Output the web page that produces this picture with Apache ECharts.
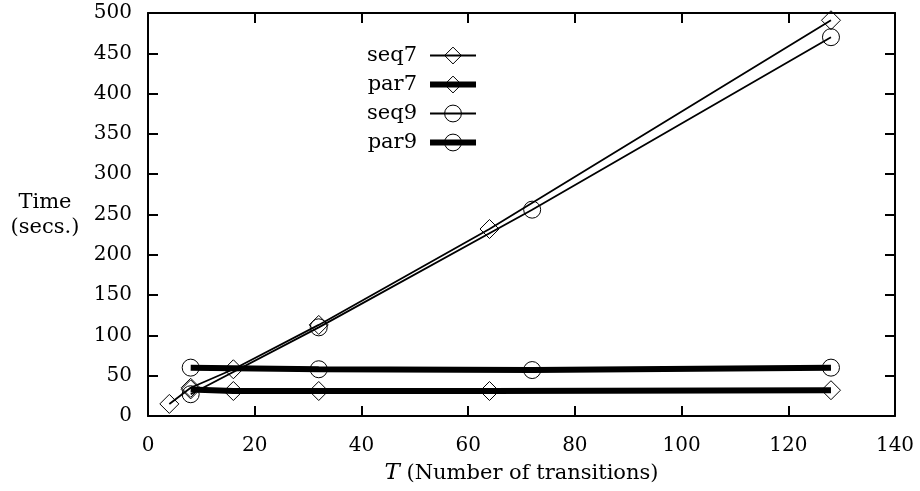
<!DOCTYPE html>
<html><head><meta charset="utf-8">
<script src="https://cdn.jsdelivr.net/npm/echarts@6/dist/echarts.min.js"></script>
<style>html,body{margin:0;padding:0;background:#fff}#c{width:920px;height:491px}</style>
</head><body><div id="c"></div>
<script>
const seq7X = [4, 8, 16, 32, 64, 128];
const seq7Y = [15, 35, 58, 113, 232, 491];
const par7X = [8, 16, 32, 64, 128];
const par7Y = [33, 31, 31, 31, 32];
const seq9X = [8, 32, 72, 128];
const seq9Y = [27, 110, 256, 470];
const par9X = [8, 32, 72, 128];
const par9Y = [60, 58, 57, 60];
const xTicks = [0, 20, 40, 60, 80, 100, 120, 140];
const yTicks = [0, 50, 100, 150, 200, 250, 300, 350, 400, 450, 500];

const FONT = 'DejaVu Serif';
const zip = (xs, ys) => xs.map((x, i) => [x, ys[i]]);

function mk(name, xs, ys, sym, width) {
  return {
    name, type: 'line', data: zip(xs, ys), symbol: sym, symbolSize: sym === 'circle' ? 17 : 19,
    showSymbol: true, animation: false,
    lineStyle: { color: '#000', width: width },
    itemStyle: { color: 'rgba(0,0,0,0)', borderColor: '#000', borderWidth: 1 },
    z: width > 2 ? 3 : 2
  };
}

const chart = echarts.init(document.getElementById('c'));
const axisLine = { show: true, onZero: false, lineStyle: { color: '#000', width: 2 } };
const tick = { show: true, inside: true, length: 10, lineStyle: { color: '#000', width: 2 } };
const legendItem = (name, w) => ({
  name,
  lineStyle: { width: w, color: '#000' },
  itemStyle: { color: 'rgba(0,0,0,0)', borderColor: '#000', borderWidth: 1 }
});
chart.setOption({
  backgroundColor: '#fff',
  animation: false,
  grid: { left: 148, right: 25, top: 13, bottom: 75 },
  legend: {
    orient: 'vertical', left: 362, top: 40, align: 'right', itemGap: 8,
    itemWidth: 46, itemHeight: 21,
    textStyle: { fontFamily: FONT, fontSize: 21, color: '#000', padding: [0, 8, 0, 0] },
    data: [legendItem('seq7', 2), legendItem('par7', 6),
           legendItem('seq9', 2), legendItem('par9', 6)]
  },
  xAxis: [{
    type: 'value', min: 0, max: 140, interval: 20,
    axisLine, axisTick: tick, splitLine: { show: false },
    axisLabel: { fontFamily: FONT, fontSize: 20, color: '#000', margin: 20 },
    name: '{i|T} (Number of transitions)', nameLocation: 'middle', nameGap: 46,
    nameTextStyle: { fontFamily: FONT, fontSize: 21, color: '#000',
      rich: { i: { fontFamily: FONT, fontStyle: 'italic', fontSize: 23, color: '#000' } } }
  }, {
    type: 'value', min: 0, max: 140, interval: 20, position: 'top',
    axisLine, axisTick: tick, axisLabel: { show: false }, splitLine: { show: false }
  }],
  yAxis: [{
    type: 'value', min: 0, max: 500, interval: 50,
    axisLine, axisTick: tick, splitLine: { show: false },
    axisLabel: { fontFamily: FONT, fontSize: 20, color: '#000', margin: 16 }
  }, {
    type: 'value', min: 0, max: 500, interval: 50, position: 'right',
    axisLine, axisTick: tick, axisLabel: { show: false }, splitLine: { show: false }
  }],
  graphic: [{
    type: 'text', x: 45, y: 190,
    style: { text: 'Time\n(secs.)', font: '21px "DejaVu Serif"', fill: '#000', align: 'center', verticalAlign: 'top', lineHeight: 25 }
  }],
  series: [
    mk('seq7', seq7X, seq7Y, 'diamond', 1.8),
    mk('par7', par7X, par7Y, 'diamond', 6),
    mk('seq9', seq9X, seq9Y, 'circle', 1.8),
    mk('par9', par9X, par9Y, 'circle', 6)
  ]
});
</script></body></html>
